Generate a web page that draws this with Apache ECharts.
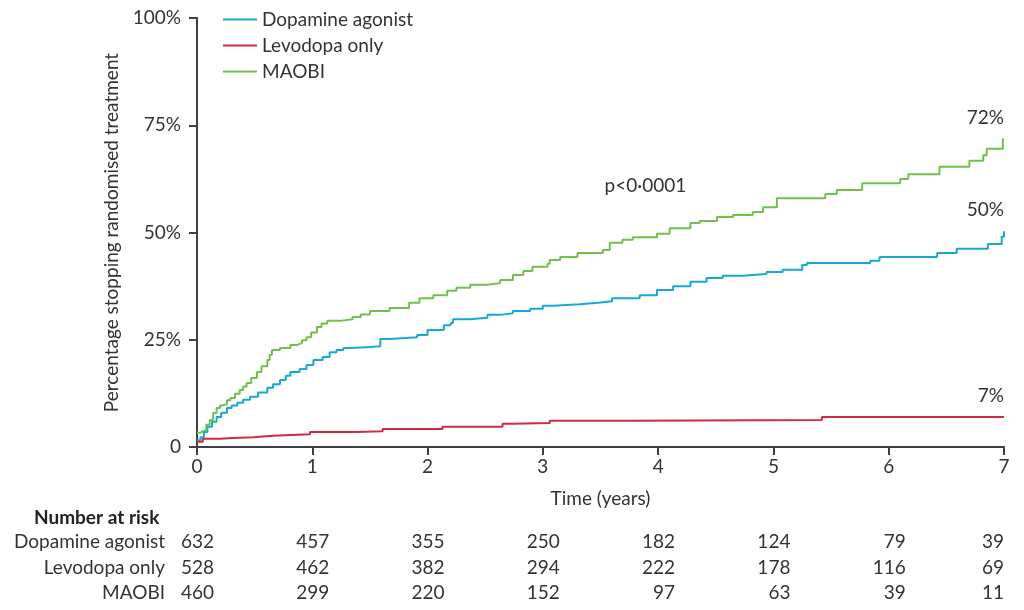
<!DOCTYPE html>
<html>
<head>
<meta charset="utf-8">
<script src="https://cdn.jsdelivr.net/npm/echarts@6/dist/echarts.min.js"></script>
<style>
  html, body { margin: 0; padding: 0; background: #fff; }
  #chart { width: 1024px; height: 610px; }
</style>
</head>
<body>
<div id="chart"></div>
<script>
// ---- data (time in years, cumulative % stopping) ----
const seriesNames = ['Dopamine agonist', 'Levodopa only', 'MAOBI'];
const dopamine = [[0,1.6],[0.03,2.3],[0.06,3.5],[0.09,4.7],[0.13,5.9],[0.17,7.0],[0.21,8.0],[0.26,9.1],[0.3,9.7],[0.35,10.3],[0.4,11.0],[0.46,11.7],[0.53,12.7],[0.61,13.8],[0.66,14.6],[0.72,15.6],[0.77,16.6],[0.81,17.5],[0.89,18.2],[0.95,19.1],[1.01,20.3],[1.09,21.0],[1.15,22.1],[1.21,22.6],[1.27,23.1],[1.33,23.3],[1.5,23.5],[1.59,25.2],[1.67,25.6],[1.91,26.1],[2.0,27.3],[2.14,28.4],[2.2,28.9],[2.22,29.8],[2.37,30.1],[2.52,30.8],[2.63,31.2],[2.74,31.7],[2.89,32.2],[3.0,32.9],[3.09,33.3],[3.32,33.6],[3.48,34.0],[3.6,34.7],[3.84,35.4],[3.99,36.6],[4.13,37.5],[4.28,38.5],[4.42,39.4],[4.56,39.9],[4.73,40.3],[4.94,40.8],[5.08,41.3],[5.25,42.4],[5.29,42.9],[5.84,43.4],[5.92,44.3],[6.42,45.2],[6.59,46.2],[6.86,47.3],[6.98,49.0],[7.0,50.3]];
const levodopa = [[0,1.2],[0.05,1.9],[0.2,2.1],[0.31,2.3],[0.49,2.6],[0.66,3.0],[0.98,3.5],[1.39,3.7],[1.61,4.2],[2.13,4.7],[2.65,5.4],[2.74,5.6],[3.06,6.1],[3.78,6.3],[5.42,7.0],[7.0,7.0]];
const maobi = [[0,3.3],[0.03,3.7],[0.05,4.0],[0.08,5.2],[0.11,6.3],[0.14,7.9],[0.17,9.1],[0.2,9.7],[0.22,10.0],[0.26,10.9],[0.29,11.4],[0.33,12.4],[0.37,13.3],[0.4,14.1],[0.43,14.9],[0.47,16.1],[0.52,17.5],[0.56,18.8],[0.61,20.3],[0.63,21.5],[0.65,22.6],[0.72,23.1],[0.81,23.8],[0.87,24.2],[0.91,24.9],[0.95,25.6],[0.99,26.7],[1.04,28.0],[1.08,28.8],[1.13,29.4],[1.24,29.8],[1.35,30.3],[1.42,30.9],[1.5,31.7],[1.67,32.4],[1.84,33.6],[1.93,34.7],[2.05,35.4],[2.17,36.4],[2.25,37.1],[2.37,37.8],[2.52,38.2],[2.63,38.9],[2.74,40.1],[2.83,41.0],[2.91,42.0],[3.04,42.7],[3.06,43.6],[3.15,44.3],[3.3,45.2],[3.52,45.9],[3.58,47.6],[3.69,48.3],[3.78,48.9],[3.99,49.7],[4.1,51.0],[4.28,52.2],[4.36,52.7],[4.51,53.6],[4.65,54.1],[4.82,54.8],[4.91,55.9],[5.03,58.0],[5.45,59.0],[5.55,59.9],[5.77,61.5],[6.1,62.5],[6.17,63.6],[6.44,65.3],[6.7,66.7],[6.82,68.0],[6.85,69.5],[6.99,71.8],[7.0,71.8]];
const endLabels = ['50%', '7%', '72%'];
const endValues = [50.3, 7.0, 71.8];
const pValueText = 'p<0\u00b70001';
const pValuePos = [3.89, 60.8];

// ---- number at risk ----
const riskTimes = [0,1,2,3,4,5,6,7];
const riskDopamine = [632,457,355,250,182,124,79,39];
const riskLevodopa = [528,462,382,294,222,178,116,69];
const riskMaobi = [460,299,220,152,97,63,39,11];
const riskTitle = 'Number at risk';

// ---- axis ticks ----
const yTicks = [0,25,50,75,100];
const yTickLabels = ['0','25%','50%','75%','100%'];
const xTickLabels = ['0','1','2','3','4','5','6','7'];
const xName = 'Time (years)';
const yName = 'Percentage stopping randomised treatment';

const colors = ['#16a9d6', '#cf2b40', '#72c04b'];
const FONT = 'Lato';
const FS = 19;
const TXT = '#333333';
const AX = '#404040';

const chart = echarts.init(document.getElementById('chart'), null, { renderer: 'canvas' });

function riskAxis(name, values, offset) {
  return {
    type: 'value', min: 0, max: 7, interval: 1, gridIndex: 0, position: 'bottom', offset: offset,
    name: name, nameLocation: 'start', nameGap: 32,
    nameTextStyle: { fontFamily: FONT, fontSize: FS, color: TXT, align: 'right', verticalAlign: 'middle' },
    axisLine: { show: false }, axisTick: { show: false }, splitLine: { show: false },
    axisLabel: {
      margin: 0, verticalAlign: 'middle', alignMaxLabel: 'right', showMaxLabel: true, showMinLabel: true,
      formatter: v => '{n|' + values[riskTimes.indexOf(v)] + '}',
      rich: { n: { fontFamily: FONT, fontSize: FS, color: TXT, width: 34, align: 'right' } }
    }
  };
}

function endLabel(i) {
  return { coord: [7, endValues[i]], label: { show: true, formatter: endLabels[i], position: 'top', distance: 12, align: 'right',
    fontFamily: FONT, fontSize: FS, color: TXT } };
}

const option = {
  animation: false,
  color: colors,
  textStyle: { fontFamily: FONT },
  title: { text: riskTitle, left: 29, top: 503, textStyle: { fontFamily: FONT, fontSize: FS, fontWeight: 'bold', color: '#222' } },
  legend: {
    left: 218, top: 5, orient: 'vertical', icon: 'rect', itemWidth: 34, itemHeight: 2, itemGap: 7,
    textStyle: { fontFamily: FONT, fontSize: FS, color: TXT, lineHeight: 19 },
    data: seriesNames
  },
  grid: { left: 197, right: 20, top: 18, bottom: 163, containLabel: false },
  xAxis: [
    {
      type: 'value', min: 0, max: 7, interval: 1,
      name: xName, nameLocation: 'middle', nameGap: 42,
      nameTextStyle: { fontFamily: FONT, fontSize: FS, color: TXT },
      axisLine: { lineStyle: { color: AX, width: 2 } },
      axisTick: { show: true, length: 8, inside: false, lineStyle: { color: AX, width: 2 } },
      axisLabel: { margin: 10, fontFamily: FONT, fontSize: FS, color: TXT, formatter: v => xTickLabels[v] },
      splitLine: { show: false }
    },
    riskAxis(seriesNames[0], riskDopamine, 95),
    riskAxis(seriesNames[1], riskLevodopa, 121),
    riskAxis(seriesNames[2], riskMaobi, 146)
  ],
  yAxis: {
    type: 'value', min: 0, max: 100, interval: 25,
    name: yName, nameLocation: 'middle', nameGap: 75, nameRotate: 90,
    nameTextStyle: { fontFamily: FONT, fontSize: FS, color: TXT },
    axisLine: { show: true, lineStyle: { color: AX, width: 2 } },
    axisTick: { show: true, length: 8, lineStyle: { color: AX, width: 2 } },
    axisLabel: { margin: 16, fontFamily: FONT, fontSize: FS, color: TXT, formatter: v => yTickLabels[yTicks.indexOf(v)] },
    splitLine: { show: false }
  },
  series: [
    { name: seriesNames[0], type: 'line', step: 'end', showSymbol: false, symbol: 'none', data: dopamine,
      lineStyle: { width: 2, color: colors[0] },
      markPoint: { symbol: 'circle', symbolSize: 0.01, silent: true, data: [endLabel(0)] } },
    { name: seriesNames[1], type: 'line', step: 'end', showSymbol: false, symbol: 'none', data: levodopa,
      lineStyle: { width: 2, color: colors[1] },
      markPoint: { symbol: 'circle', symbolSize: 0.01, silent: true, data: [endLabel(1)] } },
    { name: seriesNames[2], type: 'line', step: 'end', showSymbol: false, symbol: 'none', data: maobi,
      lineStyle: { width: 2, color: colors[2] },
      markPoint: {
        symbol: 'circle', symbolSize: 0.01, silent: true,
        data: [
          endLabel(2),
          { coord: pValuePos, label: { show: true, formatter: pValueText, position: 'inside', fontFamily: FONT, fontSize: FS, color: TXT } }
        ]
      } }
  ]
};
chart.setOption(option);
</script>
</body>
</html>
